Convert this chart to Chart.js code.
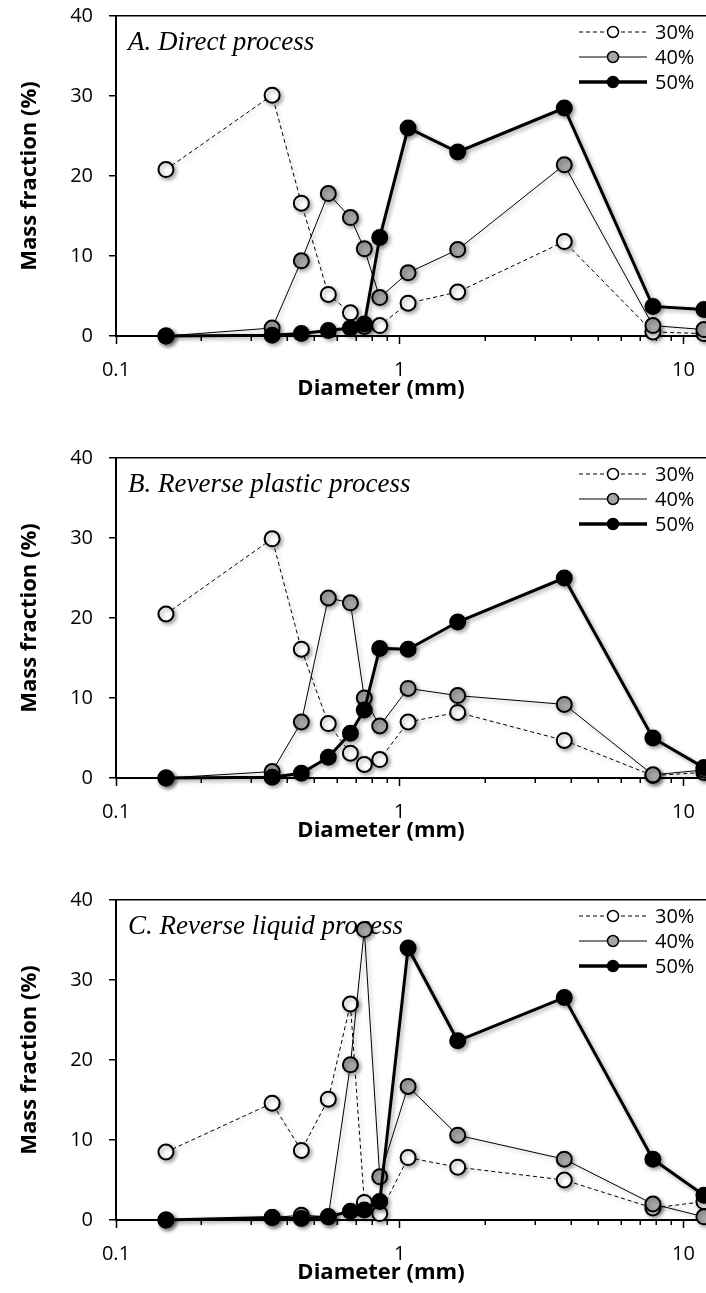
<!DOCTYPE html>
<html>
<head>
<meta charset="utf-8">
<title>Mass fraction vs diameter</title>
<script src="https://cdn.jsdelivr.net/npm/chart.js@4.4.1/dist/chart.umd.min.js"></script>
<style>
    html, body { margin: 0; padding: 0; background: #fff; overflow: hidden; }
    .panel { position: absolute; left: 0; width: 706px; height: 442px; }
</style>
</head>
<body>
<div class="panel" style="top:0"><canvas id="chartA" width="706" height="442"></canvas></div>
<div class="panel" style="top:442px"><canvas id="chartB" width="706" height="442"></canvas></div>
<div class="panel" style="top:884px"><canvas id="chartC" width="706" height="442"></canvas></div>

<script>
// ---------------- DATA ----------------
// sieve class diameters (mm)
const diameters = [0.15, 0.355, 0.45, 0.56, 0.67, 0.75, 0.85, 1.07, 1.6, 3.8, 7.8, 11.8];

const seriesNames = ["30%", "40%", "50%"];

// A. direct process
const direct30 = [20.8, 30.1, 16.6, 5.2, 2.9, 1.2, 1.3, 4.1, 5.5, 11.8, 0.5, 0.3];
const direct40 = [0, 1.0, 9.4, 17.8, 14.8, 10.9, 4.8, 7.9, 10.8, 21.4, 1.3, 0.8];
const direct50 = [0, 0.1, 0.3, 0.7, 1.0, 1.5, 12.3, 26.0, 23.0, 28.5, 3.7, 3.3];

// B. reverse plastic process
const plastic30 = [20.5, 29.9, 16.1, 6.8, 3.1, 1.7, 2.3, 7.0, 8.2, 4.7, 0.3, 0.7];
const plastic40 = [0, 0.8, 7.0, 22.5, 21.9, 10.0, 6.5, 11.2, 10.3, 9.2, 0.4, 1.0];
const plastic50 = [0, 0.1, 0.6, 2.6, 5.6, 8.5, 16.2, 16.1, 19.5, 25.0, 5.0, 1.3];

// C. reverse liquid process
const liquid30 = [8.5, 14.6, 8.7, 15.1, 27.0, 2.2, 0.8, 7.8, 6.6, 5.0, 1.5, 2.3];
const liquid40 = [0, 0.3, 0.6, 0.4, 19.4, 36.3, 5.4, 16.7, 10.6, 7.6, 2.0, 0.4];
const liquid50 = [0, 0.3, 0.2, 0.4, 1.1, 1.25, 2.3, 34.0, 22.4, 27.8, 7.6, 3.1];

// axis ticks
const yTicks = [0, 10, 20, 30, 40];
const xMajorTicks = [0.1, 1, 10];
const xMinorTicks = [0.2, 0.3, 0.4, 0.5, 0.6, 0.7, 0.8, 0.9, 2, 3, 4, 5, 6, 7, 8, 9];

const SANS = "'Open Sans', 'Noto Sans', sans-serif";

// ---------------- SERIES STYLE ----------------
const seriesStyle = [
    { fill: "#ffffff", width: 1, dash: [4, 3], order: 3 },
    { fill: "#a6a6a6", width: 1, dash: [], order: 2 },
    { fill: "#000000", width: 3, dash: [], order: 1 }
];

function makeDatasets(values) {
    return values.map((vals, i) => ({
        label: seriesNames[i],
        data: diameters.map((d, k) => ({ x: d, y: vals[k] })),
        borderColor: "#000",
        borderWidth: seriesStyle[i].width,
        borderDash: seriesStyle[i].dash,
        pointBackgroundColor: seriesStyle[i].fill,
        pointBorderColor: "#000",
        pointBorderWidth: 2,
        pointRadius: 7.5,
        order: seriesStyle[i].order,
        tension: 0,
        clip: false
    }));
}

// ---------------- LEGEND ----------------
function drawLegend(chart) {
    const ctx = chart.ctx;
    const area = chart.chartArea;

    chart.data.datasets.forEach((ds, i) => {
        const y = area.top + 16 + i * 25;
        ctx.save();
        ctx.strokeStyle = "#000";
        ctx.lineWidth = ds.borderWidth === 3 ? 3.5 : 1;
        ctx.setLineDash(ds.borderDash);
        ctx.beginPath();
        ctx.moveTo(area.right - 127, y);
        ctx.lineTo(area.right - 59, y);
        ctx.stroke();

        ctx.setLineDash([]);
        ctx.beginPath();
        ctx.arc(area.right - 93, y, 5.5, 0, Math.PI * 2);
        ctx.fillStyle = ds.pointBackgroundColor;
        ctx.fill();
        ctx.lineWidth = 1.5;
        ctx.stroke();

        ctx.fillStyle = "#000";
        ctx.font = "20px " + SANS;
        ctx.textBaseline = "middle";
        ctx.fillText(ds.label, area.right - 51, y + 1);
        ctx.restore();
    });
}

// ---------------- PANEL EXTRAS ----------------
// panel title, minor ticks, axis titles, marker shadows, legend
const panelExtras = {
    id: "panelExtras",
    beforeDatasetsDraw(chart, args, opts) {
        const ctx = chart.ctx;
        const area = chart.chartArea;
        const xs = chart.scales.x;

        ctx.save();
        ctx.fillStyle = "#000";
        ctx.font = "italic 27px 'Liberation Serif', serif";
        ctx.textBaseline = "alphabetic";
        ctx.fillText(opts.title, area.left + 12, area.top + 34);

        ctx.strokeStyle = "#000";
        ctx.lineWidth = 1.5;
        ctx.beginPath();
        xMinorTicks.forEach(v => {
            const px = Math.round(xs.getPixelForValue(v)) + 0.25;
            ctx.moveTo(px, area.bottom);
            ctx.lineTo(px, area.bottom + 5);
        });
        ctx.stroke();

        ctx.font = "bold 22px " + SANS;
        ctx.textAlign = "center";
        ctx.textBaseline = "middle";
        ctx.fillText("Diameter (mm)", 381, area.bottom + 53);

        ctx.translate(30, (area.top + area.bottom) / 2);
        ctx.rotate(-Math.PI / 2);
        ctx.fillText("Mass fraction (%)", 0, 0);
        ctx.restore();

        // soft drop shadow under lines and markers
        ctx.save();
        ctx.shadowColor = "rgba(0,0,0,0.35)";
        ctx.shadowBlur = 4;
        ctx.shadowOffsetX = 2;
        ctx.shadowOffsetY = 2;
    },
    afterDatasetsDraw(chart) {
        chart.ctx.restore();
        drawLegend(chart);
    }
};

// ---------------- CREATE CHART ----------------
function createPanel(id, title, values) {
    const ctx = document.getElementById(id);

    return new Chart(ctx, {
        type: "line",
        data: { datasets: makeDatasets(values) },
        options: {
            responsive: false,
            animation: false,
            events: [],
            devicePixelRatio: 1,
            layout: {
                autoPadding: false,
                padding: { top: 16, right: 0, left: 0, bottom: 0 }
            },
            plugins: {
                legend: { display: false },
                tooltip: { enabled: false },
                panelExtras: { title: title }
            },
            scales: {
                x: {
                    type: "logarithmic",
                    min: 0.1,
                    max: 12,
                    afterBuildTicks: s => { s.ticks = xMajorTicks.map(v => ({ value: v })); },
                    afterFit: s => {
                        s.height = 106;
                        s.paddingLeft = 0;
                        s.paddingRight = 0;
                    },
                    ticks: {
                        color: "#000",
                        font: { family: SANS, size: 20 },
                        padding: 14,
                        maxRotation: 0,
                        autoSkip: false,
                        callback: v => String(v)
                    },
                    grid: { drawOnChartArea: false, tickLength: 8, tickColor: "#000", tickWidth: 1.5 },
                    border: { color: "#000", width: 2 }
                },
                y: {
                    min: 0,
                    max: 40,
                    afterBuildTicks: s => { s.ticks = yTicks.map(v => ({ value: v })); },
                    afterFit: s => {
                        s.width = 116;
                        s.paddingTop = 0;
                        s.paddingBottom = 0;
                    },
                    ticks: {
                        color: "#000",
                        font: { family: SANS, size: 20 },
                        padding: 16
                    },
                    grid: {
                        color: c => (c.tick && c.tick.value === 40 ? "#000" : "rgba(0,0,0,0)"),
                        lineWidth: 1.5,
                        tickLength: 7,
                        tickColor: "#000",
                        tickWidth: 1.5
                    },
                    border: { color: "#000", width: 2 }
                }
            }
        },
        plugins: [panelExtras]
    });
}

// ---------------- INIT ----------------
createPanel("chartA", "A. Direct process", [direct30, direct40, direct50]);
createPanel("chartB", "B. Reverse plastic process", [plastic30, plastic40, plastic50]);
createPanel("chartC", "C. Reverse liquid process", [liquid30, liquid40, liquid50]);
</script>
</body>
</html>
